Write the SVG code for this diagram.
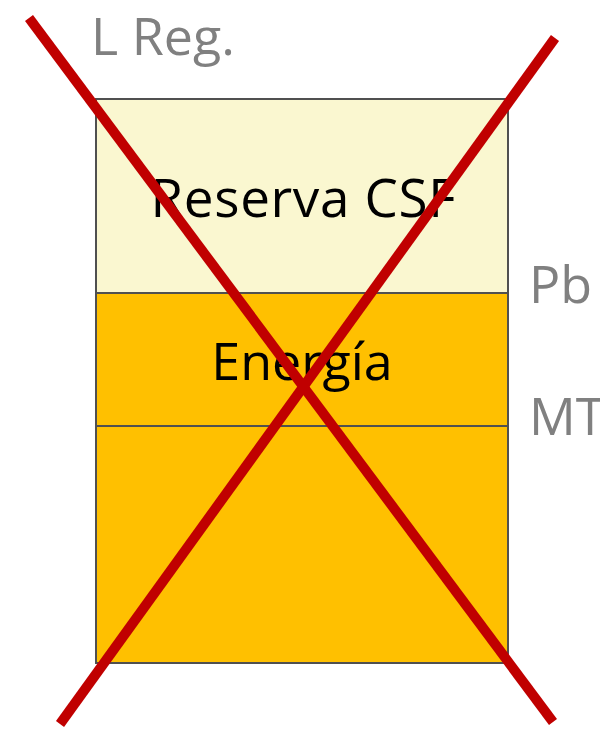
<svg xmlns="http://www.w3.org/2000/svg" width="600" height="730" viewBox="0 0 600 730">
<style>
.lbl{font-family:"Open Sans","Noto Sans",sans-serif;font-size:52px;fill:#808080}
.txt{font-family:"Open Sans","Noto Sans",sans-serif;font-size:52px;fill:#000;text-anchor:middle}
.box{stroke:#505050;stroke-width:2}
.x{stroke:#C00000;stroke-width:10;fill:none}
</style>
<rect width="600" height="730" fill="#fff"/>
<g id="reserva">
<rect class="box" x="96" y="99" width="412" height="194" fill="#FAF7D0"/>
<text class="txt" x="303" y="217" style="font-size:53px" textLength="305" lengthAdjust="spacing">Reserva CSF</text>
</g>
<g id="energia">
<rect class="box" x="96" y="293" width="412" height="133" fill="#FFC000"/>
<text class="txt" x="302" y="380">Energía</text>
</g>
<g id="base">
<rect class="box" x="96" y="426" width="412" height="237" fill="#FFC000"/>
</g>
<g id="labels">
<text class="lbl" x="91" y="55">L Reg.</text>
<text class="lbl" x="529" y="303">Pb</text>
<text class="lbl" x="529" y="435">MT</text>
</g>
<g id="connectors">
<line class="x" x1="29" y1="18" x2="553" y2="722"/>
<line class="x" x1="555" y1="38" x2="60" y2="724"/>
</g>
</svg>
